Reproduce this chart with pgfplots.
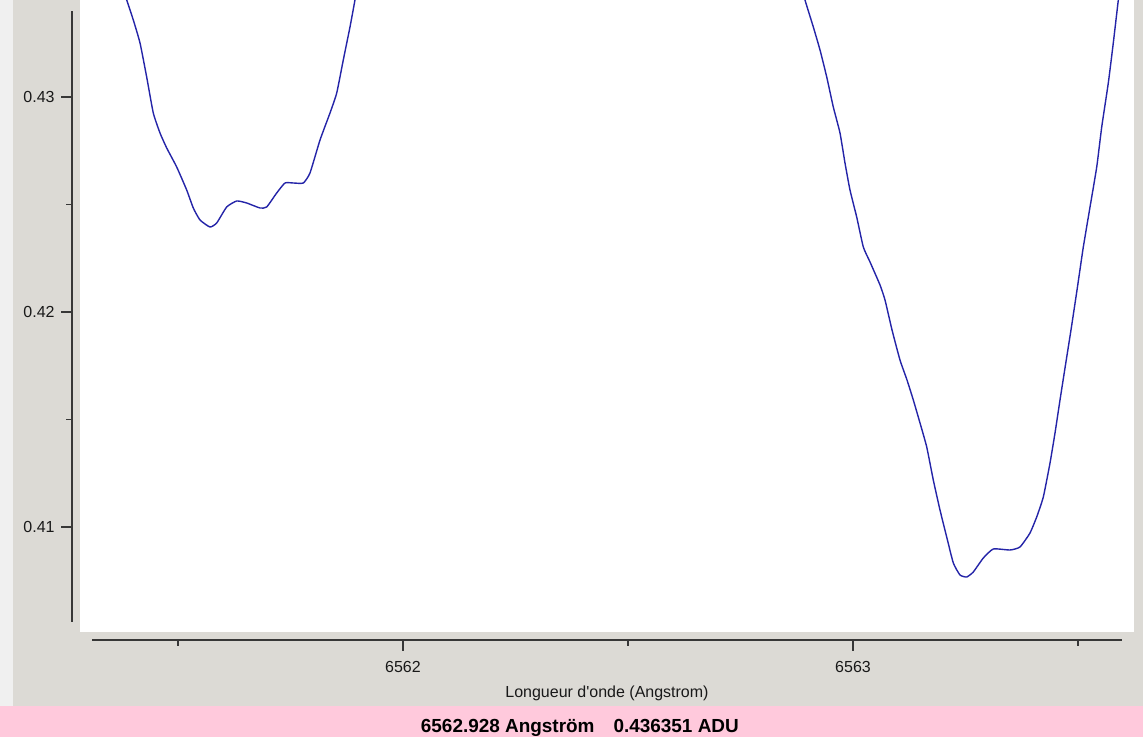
\documentclass[border=0pt]{standalone}
\usepackage{fontspec}
\setmainfont{Liberation Sans}[Ligatures=TeXOff]
\usepackage{pgfplots}
\pgfplotsset{compat=1.18}
\definecolor{bggray}{RGB}{220,218,213}
\definecolor{strip}{RGB}{240,240,240}
\definecolor{pinkbar}{RGB}{255,201,220}
\definecolor{curve}{RGB}{36,36,168}
\definecolor{axcol}{RGB}{55,55,55}
\definecolor{txt}{RGB}{25,25,25}
\begin{document}
\begin{tikzpicture}
\useasboundingbox (0,0) rectangle (857.25pt,552.75pt);
\fill[bggray] (0,0) rectangle (857.25pt,552.75pt);
\fill[strip] (0,0) rectangle (10pt,552.75pt);
\fill[pinkbar] (0,0) rectangle (857.25pt,23.5pt);
\node[anchor=west, font=\fontsize{14.2}{16}\selectfont\bfseries, text=black, inner sep=0pt] at (315.5pt,7pt) {6562.928 Angström\hspace{14.25pt}0.436351 ADU};
\begin{axis}[
  at={(60pt,78.75pt)}, anchor=south west,
  scale only axis, width=790.5pt, height=474pt,
  xmin=6561.28222, xmax=6563.62444, ymin=0.405116, ymax=0.434512,
  axis lines=left, axis line shift=6pt,
  axis background/.style={fill=white},
  x axis line style={-, draw=axcol, line width=1.1pt, shorten <=9pt, shorten >=9pt},
  y axis line style={-, draw=axcol, line width=1.1pt, shorten <=7.5pt, shorten >=8.25pt},
  tick align=outside,
  major tick length=8pt, minor tick length=4.5pt,
  every tick/.style={draw=axcol, line width=1pt},
  xtick={6562,6563}, minor xtick={6561.5,6562.5,6563.5},
  ytick={0.41,0.42,0.43}, minor ytick={0.415,0.425},
  /pgf/number format/assume math mode=true,
  /pgf/number format/set thousands separator={},
  yticklabel style={/pgf/number format/fixed, /pgf/number format/precision=2, xshift=-1.5pt},
  xticklabel style={yshift=-4.5pt},
  tick label style={font=\fontsize{12}{14}\selectfont, text=txt},
  xlabel={Longueur d'onde (Angstrom)},
  xlabel style={font=\fontsize{12}{14}\selectfont, text=txt, yshift=-3pt},
  clip=true,
]
\addplot[curve, line width=1.05pt, smooth, tension=0.3] coordinates {
(6561.3800,0.434977) (6561.3860,0.434512) (6561.4007,0.433581) (6561.4156,0.432512)
(6561.4304,0.430930) (6561.4451,0.429256) (6561.4600,0.428326) (6561.4749,0.427628)
(6561.4971,0.426744) (6561.5193,0.425674) (6561.5340,0.424837) (6561.5489,0.424279)
(6561.5711,0.423953) (6561.5860,0.424140) (6561.6082,0.424884) (6561.6304,0.425163)
(6561.6527,0.425070) (6561.6822,0.424837) (6561.6971,0.424884) (6561.7193,0.425535)
(6561.7378,0.426000) (6561.7562,0.426000) (6561.7784,0.426000) (6561.7933,0.426465)
(6561.8156,0.428000) (6561.8378,0.429256) (6561.8527,0.430186) (6561.8673,0.431721)
(6561.8822,0.433256) (6561.8933,0.434512) (6561.8978,0.435070)
};
\addplot[curve, line width=1.05pt, smooth, tension=0.3] coordinates {
(6562.8889,0.434977) (6562.8933,0.434512) (6562.9118,0.433256) (6562.9267,0.432186)
(6562.9416,0.430930) (6562.9562,0.429535) (6562.9711,0.428326) (6562.9822,0.426930)
(6562.9933,0.425674) (6563.0082,0.424419) (6563.0229,0.423023) (6563.0378,0.422326)
(6563.0600,0.421256) (6563.0711,0.420558) (6563.0867,0.419163) (6563.1044,0.417767)
(6563.1200,0.416837) (6563.1340,0.415907) (6563.1489,0.414837) (6563.1638,0.413721)
(6563.1784,0.412186) (6563.1933,0.410791) (6563.2082,0.409535) (6563.2229,0.408326)
(6563.2378,0.407767) (6563.2527,0.407674) (6563.2673,0.407907) (6563.2896,0.408558)
(6563.3118,0.408977) (6563.3489,0.408930) (6563.3711,0.409070) (6563.3933,0.409721)
(6563.4082,0.410465) (6563.4229,0.411395) (6563.4378,0.412977) (6563.4489,0.414372)
(6563.4600,0.415907) (6563.4711,0.417395) (6563.4844,0.419163) (6563.4978,0.421023)
(6563.5118,0.423023) (6563.5267,0.424884) (6563.5416,0.426744) (6563.5527,0.428605)
(6563.5673,0.430651) (6563.5784,0.432512) (6563.5896,0.434512) (6563.5933,0.434977)
};
\end{axis}
\end{tikzpicture}
\end{document}
